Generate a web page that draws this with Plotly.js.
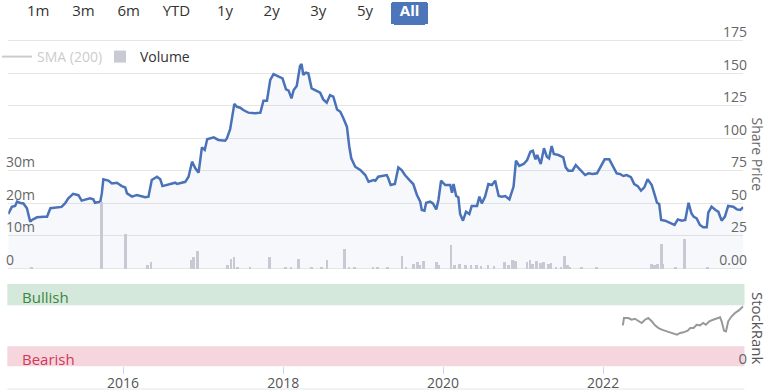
<!DOCTYPE html>
<html><head><meta charset="utf-8">
<script src="https://cdn.plot.ly/plotly-3.0.1.min.js"></script>
<style>html,body{margin:0;padding:0;background:#fff;overflow:hidden}#chart{width:767px;height:391px}</style>
</head><body><div id="chart"></div>
<script>
// ---------- data ----------
const priceDates = [
'2014-07-26','2014-08-11','2014-08-26','2014-09-04','2014-09-19','2014-10-03','2014-10-19','2014-11-03','2014-11-11','2014-12-04',
'2015-01-03','2015-01-19','2015-02-03','2015-03-04','2015-03-26','2015-04-11','2015-04-26','2015-05-18','2015-06-11','2015-06-26',
'2015-07-11','2015-08-03','2015-08-18','2015-08-26','2015-09-19','2015-09-26','2015-10-03','2015-10-26','2015-11-11','2015-12-04',
'2015-12-26','2016-01-11','2016-01-19','2016-02-11','2016-03-04','2016-03-26','2016-04-11','2016-04-26','2016-05-11','2016-06-04',
'2016-06-19','2016-06-29','2016-07-19','2016-08-11','2016-08-26','2016-09-04','2016-09-26','2016-10-11','2016-10-26','2016-11-11',
'2016-11-26','2016-12-11','2016-12-26','2017-01-08','2017-01-19','2017-02-18','2017-03-11','2017-04-11','2017-04-19','2017-05-04',
'2017-05-23','2017-06-04','2017-06-19','2017-07-03','2017-07-26','2017-08-26','2017-09-19','2017-10-03','2017-10-19','2017-11-03',
'2017-11-18','2017-12-11','2017-12-29','2018-01-14','2018-01-26','2018-02-08','2018-02-18','2018-03-04','2018-03-19','2018-03-26',
'2018-04-03','2018-04-14','2018-04-26','2018-05-11','2018-06-04','2018-06-19','2018-07-03','2018-07-19','2018-08-03','2018-08-18',
'2018-09-04','2018-09-19','2018-10-03','2018-10-19','2018-10-30','2018-11-08','2018-11-26','2018-12-19','2019-01-11','2019-01-26',
'2019-02-18','2019-02-26','2019-03-11','2019-04-03','2019-04-19','2019-04-26','2019-05-07','2019-05-26','2019-06-11','2019-06-26',
'2019-07-11','2019-08-03','2019-08-18','2019-09-04','2019-09-19','2019-09-26','2019-10-08','2019-10-16','2019-11-03','2019-11-16',
'2019-12-01','2019-12-11','2019-12-23','2020-01-11','2020-02-03','2020-02-11','2020-02-18','2020-03-01','2020-03-11','2020-03-19',
'2020-04-01','2020-04-15','2020-04-30','2020-05-11','2020-06-04','2020-06-15','2020-06-26','2020-07-11','2020-07-26','2020-08-11',
'2020-08-26','2020-09-11','2020-09-26','2020-10-11','2020-10-30','2020-11-18','2020-11-29','2020-12-14','2021-01-03','2021-01-19',
'2021-02-03','2021-02-14','2021-02-26','2021-03-06','2021-03-22','2021-04-06','2021-04-19','2021-04-29','2021-05-11','2021-05-21',
'2021-06-11','2021-07-03','2021-07-14','2021-07-26','2021-08-14','2021-08-29','2021-09-19','2021-10-11','2021-10-26','2021-11-14',
'2021-12-04','2021-12-19','2022-01-08','2022-01-29','2022-02-14','2022-03-04','2022-03-19','2022-04-03','2022-04-19','2022-05-08',
'2022-05-23','2022-06-08','2022-06-23','2022-07-08','2022-07-23','2022-08-11','2022-08-26','2022-09-04','2022-09-14','2022-09-23',
'2022-10-11','2022-11-03','2022-11-23','2022-12-08','2022-12-26','2023-01-11','2023-01-26','2023-02-08','2023-02-18','2023-03-04',
'2023-03-19','2023-04-03','2023-04-19','2023-04-26','2023-05-11','2023-05-29','2023-06-11','2023-06-26','2023-07-11','2023-07-26',
'2023-08-18','2023-09-04','2023-09-19','2023-10-03'];
const priceValues = [
41.5,47,47.7,51,50,49.7,46,35.6,37,39,
39.5,39.5,46,46.4,47,49.7,53.6,57,56,51.8,
52.3,53.6,52.8,50.2,51,57.4,68.2,67.2,65,65.6,
63,62,57.4,54.9,56.2,55.4,54.4,54.9,67.7,70.2,
68.2,63,63.8,65,65.6,64.6,65.6,66.3,70.2,81.8,
76.7,73.3,92.8,90.8,99,100.5,98.5,97.9,99.7,106.7,
126.2,124,123.3,121.5,119.5,119,119.5,128.7,128.7,144.6,
149.2,147.2,145.9,137.4,136.4,130.5,136.9,140,155.4,156.9,
148.5,150.2,149.7,138.2,136.4,134.9,129.7,127.2,133,131.8,
122,120.2,115.2,108.7,93.3,84.4,77.9,75.4,71.5,66.4,
67.7,67.2,70.2,70.8,71.5,69,63.8,64.6,77.4,75.4,
71.5,67.2,64.6,56.2,51,44.6,44.1,50.2,51,49.7,
45.1,52.3,67.2,63.8,63.8,57.9,64.6,55.4,54.4,41.5,
36.4,43.3,41.5,47.7,47.7,54.9,49.7,54.9,64.6,63.8,
67.2,55.4,54.9,55.4,52.8,62.6,82.6,78.5,80,83.1,
89.5,90.3,83.6,86.9,80,92.1,85.6,84.4,93.8,87.7,
86.9,85.1,77.4,74.9,74.9,79.2,75.4,71.5,72.8,72.3,
72.8,77.4,83.6,83.6,78.5,72.8,72.3,70.8,71.5,69.8,
64.6,63,59.5,62,68.2,63.8,55.4,50.2,49.2,36.9,
36.4,34.8,33.1,37.4,36.4,36.9,50.2,42.1,39.5,38.2,
33.1,31.3,31.3,42.6,47.2,44.6,43.3,36.4,39.5,47.7,
47.2,45.1,44.6,46.7];

const volumeDates = [
'2014-11-11','2015-09-26','2016-01-14','2016-04-25','2016-05-10','2016-11-08','2016-11-21','2016-12-08','2017-04-25','2017-05-11',
'2017-05-23','2017-06-10','2017-08-04','2017-11-03','2018-01-15','2018-02-08','2018-03-15','2018-05-13','2018-06-27','2018-07-23',
'2018-10-11','2018-10-30','2018-11-26','2019-02-18','2019-03-10','2019-04-25','2019-07-01','2019-07-18','2019-08-21','2019-09-09',
'2019-09-20','2019-10-06','2019-12-05','2019-12-16','2020-02-08','2020-02-24','2020-03-19','2020-04-15','2020-05-11','2020-06-04',
'2020-06-24','2020-07-26','2020-08-22','2020-10-11','2020-10-28','2020-11-16','2020-11-29','2021-01-20','2021-02-03','2021-02-14',
'2021-03-06','2021-03-23','2021-04-07','2021-04-29','2021-05-11','2021-06-03','2021-06-25','2021-07-12','2021-07-24','2021-08-05',
'2021-09-27','2021-12-05','2022-08-12','2022-08-26','2022-09-08','2022-09-26','2022-10-05','2022-11-29','2023-01-11','2023-04-25'];
const volumeValues = [ // millions of shares
0.3,20.4,10.5,1.2,2,2.5,3.5,5.3,1.2,3,
3.5,0.6,0.5,3.5,0.5,0.5,3,0.5,0.5,2.5,
6,0.6,0.6,0.5,0.6,0.5,3.7,0.6,1.5,2,
1.2,2.2,2,1.2,7.1,1,1.5,1,1.2,1,
0.8,1,0.8,2,1,2.6,2.4,2,2.6,1.5,
2.2,1.6,2,1.5,1.7,0.6,0.6,3.7,1,0.6,
0.5,0.5,1.5,1.2,1.5,7.6,1.5,0.5,9.1,0.5];

const rankDates = [
'2022-04-01','2022-04-06','2022-04-26','2022-05-11','2022-05-26','2022-06-11','2022-06-26','2022-07-11','2022-07-26','2022-08-11',
'2022-08-26','2022-09-11','2022-09-26','2022-10-19','2022-11-11','2022-12-04','2022-12-19','2023-01-03','2023-01-22','2023-02-03',
'2023-02-18','2023-03-04','2023-03-19','2023-04-03','2023-04-15','2023-05-01','2023-05-18','2023-06-06','2023-06-19','2023-06-26',
'2023-07-07','2023-07-16','2023-07-26','2023-08-11','2023-08-26','2023-09-11','2023-09-26','2023-10-03'];
const rankValues = [
49.8,58.7,58.7,56.6,57.8,54.7,52.6,56.6,58.7,54.7,
49.8,46.5,44.5,42.5,40.5,38.4,40.5,41.3,43.3,46.5,
46.5,50.5,49.8,52.6,50.5,54.7,56.6,58.7,59.5,54.7,
43.3,42.5,54.7,60.8,64.8,67.6,70.8,72.9];

const priceTickVals = [0,25,50,75,100,125,150,175];
const priceTickText = ['0.00','25','50','75','100','125','150','175'];
const volumeTickVals = [0,10,20,30];
const volumeTickText = ['0','10m','20m','30m'];
const rankTickVals = [0];
const rankTickText = ['0'];
const rangeLabels = ['1m','3m','6m','YTD','1y','2y','3y','5y','All'];

// ---------- layout helpers ----------
const W = 767, H = 391;
const px = v => v / W;
const py = v => (H - v) / H;
const FONT = 'Open Sans, sans-serif';
const NARROW = 'Liberation Sans Narrow, Open Sans, sans-serif';
const NB = '\u00a0';
const pad = (s, n) => NB.repeat(n) + s + NB.repeat(n);
const fullSpan = [priceDates[0], priceDates[priceDates.length - 1]];

const rangeSteps = [
  {count:1, step:'month', stepmode:'backward', label: pad(rangeLabels[0],1)},
  {count:3, step:'month', stepmode:'backward', label: pad(rangeLabels[1],1)},
  {count:6, step:'month', stepmode:'backward', label: pad(rangeLabels[2],1)},
  {count:1, step:'year', stepmode:'todate', label: pad(rangeLabels[3],1)},
  {count:1, step:'year', stepmode:'backward', label: pad(rangeLabels[4],2)},
  {count:2, step:'year', stepmode:'backward', label: pad(rangeLabels[5],2)},
  {count:3, step:'year', stepmode:'backward', label: pad(rangeLabels[6],2)},
  {count:5, step:'year', stepmode:'backward', label: pad(rangeLabels[7],2)},
  {step:'all', label: pad('<span style="color:#ffffff"><b>' + rangeLabels[8] + '</b></span>',1)}
];

const traces = [
  {
    type:'bar', x: volumeDates, y: volumeValues, name:'Volume', yaxis:'y', xaxis:'x2',
    legend:'legend2', marker:{color:'#c8c9d2', line:{width:0}},
    width: 9*86400000, hoverinfo:'skip'
  },
  {
    type:'scatter', mode:'lines', x: priceDates, y: priceValues, name:'Share Price',
    yaxis:'y2', xaxis:'x', showlegend:false,
    line:{color:'#4a72b8', width:2.5, shape:'linear'},
    fill:'tozeroy', fillcolor:'rgba(74,114,184,0.05)', hoverinfo:'skip'
  },
  {
    type:'scatter', mode:'lines', x:[null], y:[null], name:'SMA (200)',
    yaxis:'y2', xaxis:'x', visible:'legendonly', legend:'legend',
    line:{color:'#999999', width:2}
  },
  {
    type:'scatter', mode:'lines', x: rankDates, y: rankValues, name:'StockRank',
    yaxis:'y3', xaxis:'x', showlegend:false,
    line:{color:'#999999', width:2}, hoverinfo:'skip'
  }
];

const layout = {
  width: W, height: H,
  margin:{l:0, r:0, t:0, b:0, pad:0, autoexpand:false},
  paper_bgcolor:'#ffffff', plot_bgcolor:'rgba(0,0,0,0)',
  font:{family:FONT, color:'#333333'},
  showlegend:true,
  bargap:0,
  xaxis:{
    type:'date', anchor:'free', position: py(366.3), domain:[px(8.3), px(743.3)],
    autorange:true,
    showgrid:false, zeroline:false, showline:false,
    ticks:'outside', ticklen:7, tickcolor:'#ccd6eb', tickwidth:1,
    tick0:'2016-01-01', dtick:'M24', tickformat:'%Y',
    tickfont:{family:NARROW, size:14, color:'#555555'}, ticklabelstandoff:-3,
    rangeselector:{
      x: px(18), xanchor:'left', y: py(1.5), yanchor:'top',
      bgcolor:'#ffffff', activecolor:'#4d75b9', bordercolor:'#ffffff', borderwidth:0,
      font:{family:FONT, size:15, color:'#333333'},
      buttons: rangeSteps
    },
    fixedrange:true
  },
  xaxis2:{
    type:'date', overlaying:'x', range: fullSpan, visible:false, fixedrange:true
  },
  yaxis:{
    domain:[py(281), py(14.5)], range:[-4,78], side:'right', anchor:'free', position: 0,
    tickvals: volumeTickVals, ticktext: volumeTickText,
    ticks:'', showgrid:false, zeroline:false, showline:false,
    tickfont:{family:FONT, size:14, color:'#666666'}, ticklabelshift:-8, ticklabelstandoff:5,
    fixedrange:true
  },
  yaxis2:{
    overlaying:'y', side:'left', anchor:'free', position: px(747), range:[-10,195],
    tickvals: priceTickVals, ticktext: priceTickText,
    ticks:'', showgrid:true, gridcolor:'#e6e6e6', gridwidth:1,
    zeroline:false, showline:false,
    tickfont:{family:FONT, size:14, color:'#666666'}, ticklabelshift:-8,
    fixedrange:true
  },
  yaxis3:{
    domain:[py(376.2), py(284)], range:[-12,100], side:'left', anchor:'free', position: px(747),
    tickvals: rankTickVals, ticktext: rankTickText,
    ticks:'', showgrid:false, zeroline:false, showline:false,
    tickfont:{family:NARROW, size:15, color:'#666666'}, ticklabelshift:-8,
    fixedrange:true
  },
  legend:{
    x: px(-3), xanchor:'left', y: py(57), yanchor:'middle', orientation:'h',
    bgcolor:'rgba(0,0,0,0)', font:{family:FONT, size:14, color:'#999999'}
  },
  legend2:{
    x: px(100), xanchor:'left', y: py(57), yanchor:'middle', orientation:'h',
    bgcolor:'rgba(0,0,0,0)', font:{family:FONT, size:14, color:'#333333'}
  },
  shapes:[
    {type:'rect', xref:'paper', yref:'y3', x0:px(7.3), x1:px(744.5), y0:74.1, y1:100,
     fillcolor:'#d5e8dc', line:{width:0}, layer:'below'},
    {type:'rect', xref:'paper', yref:'y3', x0:px(7.3), x1:px(744.5), y0:0, y1:24.3,
     fillcolor:'#f5d6dd', line:{width:0}, layer:'below'},
    {type:'line', xref:'paper', yref:'paper', x0:px(7.3), x1:px(744.5), y0:py(389), y1:py(389),
     line:{color:'#e6e6e6', width:1}}
  ],
  annotations:[
    {text:'Share Price', xref:'paper', yref:'paper', x:px(757.5), y:py(154), textangle:90,
     showarrow:false, xanchor:'center', yanchor:'middle', font:{family:FONT, size:14, color:'#666666'}},
    {text:'StockRank', xref:'paper', yref:'paper', x:px(758), y:py(328), textangle:90,
     showarrow:false, xanchor:'center', yanchor:'middle', font:{family:FONT, size:15, color:'#555555'}},
    {text:'Bullish', xref:'paper', yref:'paper', x:px(20), y:py(297),
     showarrow:false, xanchor:'left', yanchor:'middle', font:{family:FONT, size:15, color:'#3b873b'}},
    {text:'Bearish', xref:'paper', yref:'paper', x:px(20), y:py(358.5),
     showarrow:false, xanchor:'left', yanchor:'middle', font:{family:FONT, size:15, color:'#d2385a'}}
  ]
};

Plotly.newPlot('chart', traces, layout, {displayModeBar:false, responsive:false});
</script>
</body></html>
